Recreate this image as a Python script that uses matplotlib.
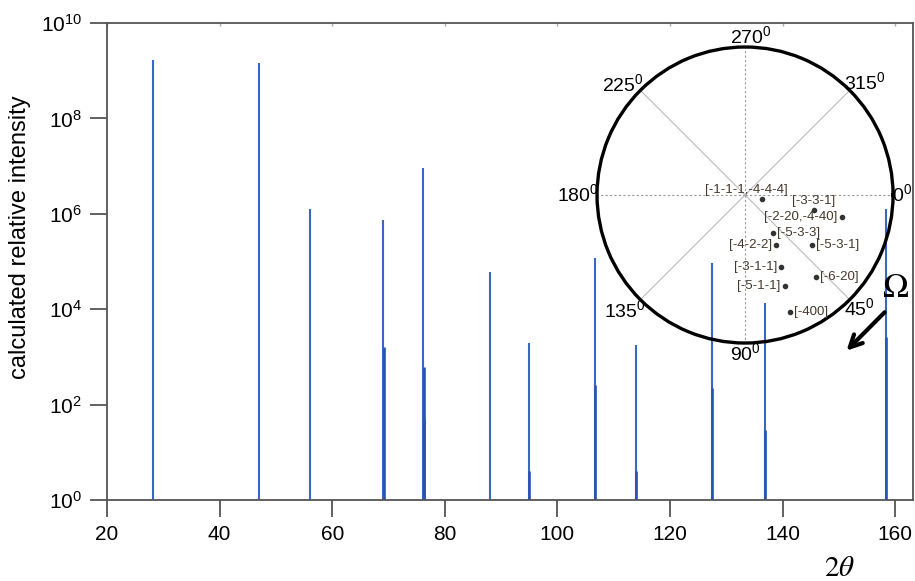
import numpy as np
import matplotlib
matplotlib.use('Agg')
import matplotlib.pyplot as plt

plt.rcParams['font.family'] = ['Liberation Sans', 'DejaVu Sans']
plt.rcParams['mathtext.fontset'] = 'custom'
plt.rcParams['mathtext.rm'] = 'Liberation Sans'

# calculated reflections: 2theta position and relative intensity
two_theta = [28.2, 47.0, 56.1, 69.1, 76.2, 88.0, 94.9, 106.7, 114.0, 127.5, 136.9, 158.4]
intensity = [1.7e9, 1.45e9, 1.25e6, 7.5e5, 9.0e6, 6.0e4, 2.0e3, 1.2e5, 1.8e3, 9.5e4, 1.35e4, 1.25e6]

# weak companion reflections sitting right next to the main ones
weak_theta = [69.15, 76.25, 76.3, 94.95, 106.75, 114.05, 127.55, 136.95, 158.45]
weak_intensity = [1.6e3, 6.0e2, 50, 4, 2.6e2, 4, 2.2e2, 30, 2.6e3]

# pole figure points: azimuth (deg), radial position (fraction of circle radius)
pole_labels = ['[-1-1-1,-4-4-4]', '[-3-3-1]', '[-2-20,-4-40]', '[-5-3-3]', '[-4-2-2]',
               '[-5-3-1]', '[-3-1-1]', '[-6-20]', '[-5-1-1]', '[-400]']
pole_phi = [13, 12.3, 12.8, 53.6, 58.2, 36.7, 63.4, 49.1, 66.3, 69.0]
pole_r = [0.118, 0.477, 0.672, 0.319, 0.397, 0.565, 0.544, 0.733, 0.672, 0.847]

# where each label goes relative to its dot
label_place = [((-11.5, 6.5), 'center'), ((0, 6.5), 'center'), ((-3, 0), 'right'),
               ((3, 0), 'left'), ((-3, 0), 'right'), ((3, 0), 'left'),
               ((-3, 0), 'right'), ((3, 0), 'left'), ((-3, 0), 'right'), ((3, 0), 'left')]

azimuth_ticks = [0, 45, 90, 135, 180, 225, 270, 315]
azimuth_label_pos = [(0, 1.06), (44.8, 1.09), (90, 1.07), (136, 1.13),
                     (180, 1.13), (222, 1.11), (272, 1.07), (317, 1.11)]

line_color = '#3a66c4'
weak_color = '#2853b3'
frame_color = '#555555'

fig = plt.figure(figsize=(9.15, 5.81), dpi=100)
ax = fig.add_axes([0.117, 0.1394, 0.881, 0.821])

ax.vlines(two_theta, 1, intensity, color=line_color, lw=1.5)
ax.vlines(weak_theta, 1, weak_intensity, color=weak_color, lw=1.9)

ax.set_yscale('log')
ax.set_ylim(1, 1e10)
ax.set_xlim(20, 163.2)
ax.set_xticks(np.arange(20, 161, 20))
ax.set_yticks([1e0, 1e2, 1e4, 1e6, 1e8, 1e10])
ax.yaxis.set_minor_locator(matplotlib.ticker.NullLocator())

for s in ax.spines.values():
    s.set_color(frame_color)
    s.set_linewidth(1.3)
ax.tick_params(axis='both', which='major', direction='out', length=12, width=1.3,
               color=frame_color, labelsize=15, pad=6)
# tiny inward ticks along the top edge
ax_top = ax.secondary_xaxis('top')
ax_top.set_xticks(np.arange(20, 161, 20))
ax_top.tick_params(direction='in', length=2, width=1, color='#aaaaaa', labeltop=False)
ax_top.spines['top'].set_visible(False)

ax.set_ylabel('calculated relative intensity', fontsize=17)
ax.yaxis.set_label_coords(-0.094, 0.551)
fig.text(0.918, 0.008, r'$2\theta$', fontsize=21, ha='center', va='baseline',
         math_fontfamily='stix')

# pole figure inset
axp = fig.add_axes([0.6525, 0.4096, 0.3235, 0.5095], projection='polar')
axp.set_facecolor('none')
axp.set_theta_zero_location('E')
axp.set_theta_direction(-1)
axp.set_ylim(0, 1)
axp.set_xticks([])
axp.set_yticks([])
axp.grid(False)
axp.spines['polar'].set_linewidth(2.4)
axp.spines['polar'].set_color('black')

for a in azimuth_ticks:
    if a % 90 == 0:
        axp.plot([np.radians(a)] * 2, [0, 1], color='#999999', lw=0.8, ls=(0, (2, 2)))
    else:
        axp.plot([np.radians(a)] * 2, [0, 1], color='#bbbbbb', lw=0.8, ls='-')

for a, (ang, rr) in zip(azimuth_ticks, azimuth_label_pos):
    axp.text(np.radians(ang), rr, str(a) + r'$^0$', fontsize=14, ha='center',
             va='center', clip_on=False)

axp.plot(np.radians(pole_phi), pole_r, 'o', color='#333333', ms=3)
for lab, ph, rr, (off, ha) in zip(pole_labels, pole_phi, pole_r, label_place):
    axp.annotate(lab, (np.radians(ph), rr), xytext=off, textcoords='offset points',
                 ha=ha, va='center', fontsize=9.5, color='#45382c')

# rotation direction marker
fig.text(0.979, 0.506, r'$\Omega$', fontsize=25, ha='center', va='center',
         math_fontfamily='stix')
ax.annotate('', xy=(0.923, 0.393), xytext=(0.969, 0.466), xycoords='figure fraction',
            textcoords='figure fraction',
            arrowprops=dict(arrowstyle='->', lw=3, color='black', mutation_scale=22))

fig.savefig('out.png', dpi=100)
